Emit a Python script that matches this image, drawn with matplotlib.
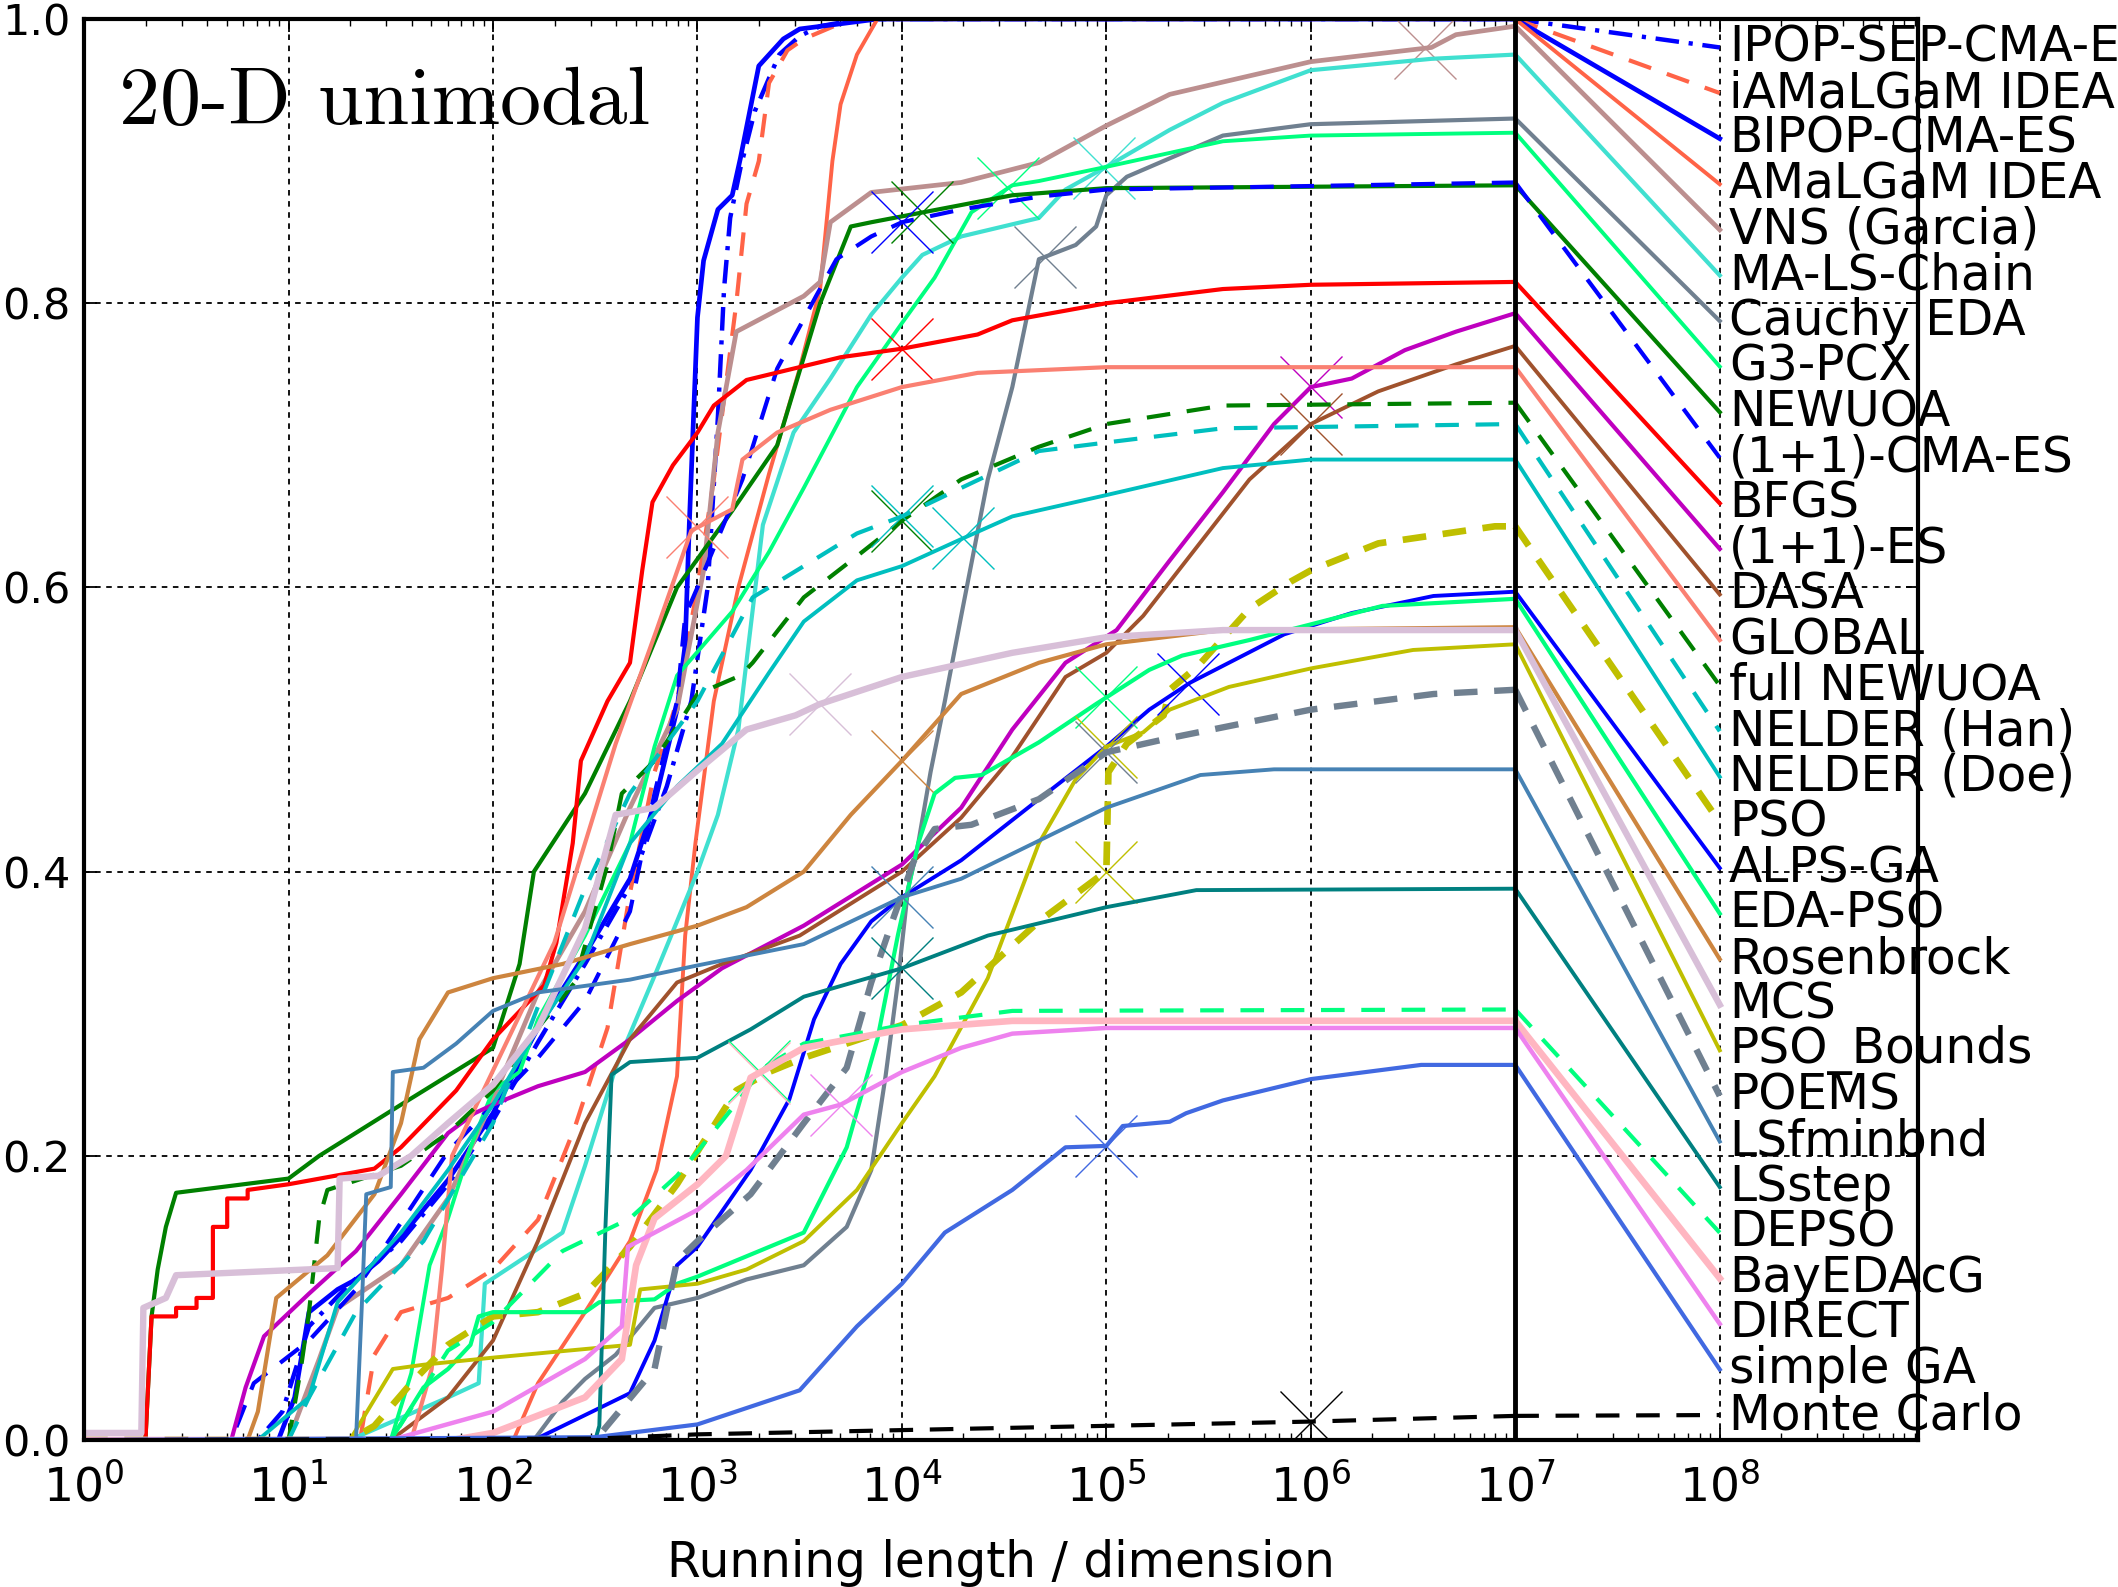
import numpy as np
import matplotlib
matplotlib.use("Agg")
import matplotlib.pyplot as plt

# ECDF points per algorithm: (log10 of running length / dimension, proportion of trials)
ipop_sep = [(0, 0), (0.85, 0), (0.97, 0.02), (1.1, 0.08), (1.3, 0.11), (1.55, 0.14), (1.78, 0.18),
            (2.0, 0.225), (2.22, 0.28), (2.45, 0.335), (2.67, 0.39), (2.85, 0.46), (2.97, 0.52),
            (3.05, 0.60), (3.1, 0.72), (3.13, 0.81), (3.16, 0.86), (3.21, 0.895), (3.28, 0.935),
            (3.4, 0.975), (3.5, 0.988), (3.6, 0.995), (3.8, 1.0), (7.0, 1.0)]
iamalgam = [(0, 0), (1.35, 0), (1.42, 0.06), (1.55, 0.09), (1.78, 0.10), (2.0, 0.12), (2.22, 0.155),
            (2.4, 0.22), (2.56, 0.29), (2.67, 0.385), (2.79, 0.47), (2.9, 0.52), (3.0, 0.6),
            (3.08, 0.676), (3.19, 0.8), (3.24, 0.87), (3.3, 0.90), (3.35, 0.955), (3.44, 0.978),
            (3.52, 0.986), (3.75, 1.0), (7.0, 1.0)]
bipop = [(0, 0), (0.95, 0), (1.03, 0.03), (1.1, 0.09), (1.24, 0.106), (1.33, 0.113), (1.44, 0.126),
         (1.55, 0.143), (1.78, 0.183), (2.0, 0.23), (2.22, 0.29), (2.45, 0.342), (2.67, 0.395),
         (2.79, 0.448), (2.9, 0.514), (2.94, 0.56), (2.96, 0.644), (3.0, 0.79), (3.03, 0.83),
         (3.1, 0.866), (3.17, 0.876), (3.21, 0.902), (3.3, 0.967), (3.42, 0.986), (3.5, 0.993),
         (3.88, 1.0), (7.0, 1.0)]
amalgam = [(0, 0), (2.1, 0), (2.22, 0.04), (2.45, 0.09), (2.67, 0.14), (2.8, 0.19), (2.9, 0.256),
           (2.94, 0.355), (2.99, 0.42), (3.08, 0.52), (3.2, 0.6), (3.35, 0.68), (3.5, 0.754),
           (3.6, 0.81), (3.66, 0.9), (3.7, 0.94), (3.78, 0.975), (3.88, 1.0), (7.0, 1.0)]
vns = [(0, 0), (1.0, 0), (1.15, 0.057), (1.24, 0.093), (1.55, 0.123), (1.78, 0.17), (2.0, 0.24),
       (2.22, 0.315), (2.45, 0.372), (2.67, 0.445), (2.9, 0.514), (3.03, 0.612), (3.1, 0.709),
       (3.19, 0.78), (3.52, 0.805), (3.6, 0.815), (3.65, 0.857), (3.85, 0.878), (4.29, 0.885),
       (4.67, 0.899), (5.0, 0.925), (5.31, 0.947), (6.0, 0.97), (6.59, 0.98), (6.71, 0.989),
       (7.0, 0.995)]
ma_ls_chain = [(0, 0), (1.3, 0), (1.78, 0.03), (1.93, 0.04), (1.96, 0.11), (2.34, 0.146),
               (2.45, 0.193), (2.6, 0.262), (2.8, 0.33), (3.0, 0.40), (3.1, 0.44), (3.2, 0.50),
               (3.32, 0.644), (3.47, 0.709), (3.65, 0.747), (3.85, 0.792), (4.0, 0.818),
               (4.1, 0.834), (4.29, 0.847), (4.67, 0.86), (4.8, 0.88), (5.0, 0.896),
               (5.31, 0.922), (5.57, 0.941), (6.0, 0.964), (6.59, 0.972), (7.0, 0.975)]
cauchy_eda = [(0, 0), (2.2, 0), (2.34, 0.027), (2.45, 0.043), (2.6, 0.06), (2.79, 0.093), (3.0, 0.1),
              (3.24, 0.113), (3.52, 0.123), (3.73, 0.15), (3.85, 0.19), (3.92, 0.256), (3.98, 0.322),
              (4.03, 0.388), (4.08, 0.42), (4.14, 0.47), (4.21, 0.52), (4.29, 0.58), (4.42, 0.676),
              (4.54, 0.741), (4.67, 0.831), (4.85, 0.841), (4.95, 0.854), (5.0, 0.876),
              (5.1, 0.889), (5.31, 0.902), (5.57, 0.918), (6.0, 0.926), (7.0, 0.93)]
g3pcx = [(0, 0), (1.5, 0), (1.6, 0.047), (1.69, 0.123), (1.78, 0.156), (1.89, 0.206), (2.0, 0.246),
         (2.13, 0.259), (2.22, 0.296), (2.45, 0.355), (2.67, 0.42), (2.79, 0.488), (2.9, 0.538),
         (3.17, 0.583), (3.35, 0.625), (3.52, 0.67), (3.78, 0.741), (4.0, 0.786), (4.16, 0.818),
         (4.34, 0.864), (4.54, 0.883), (4.67, 0.886), (5.0, 0.896), (5.57, 0.914), (6.0, 0.918),
         (7.0, 0.92)]
newuoa = [(0, 0), (0.3, 0), (0.33, 0.087), (0.36, 0.12), (0.4, 0.15), (0.45, 0.174), (1.0, 0.184),
          (1.15, 0.2), (1.55, 0.236), (2.0, 0.276), (2.13, 0.335), (2.2, 0.4), (2.45, 0.455),
          (2.67, 0.52), (2.9, 0.6), (3.17, 0.654), (3.39, 0.70), (3.6, 0.8), (3.75, 0.854),
          (3.85, 0.857), (4.54, 0.876), (5.0, 0.881), (7.0, 0.883)]
cma_11 = [(0, 0), (0.72, 0), (0.83, 0.04), (1.1, 0.07), (1.33, 0.106), (1.55, 0.153), (1.78, 0.203),
          (2.0, 0.236), (2.22, 0.269), (2.45, 0.309), (2.67, 0.372), (2.79, 0.455), (2.9, 0.52),
          (2.94, 0.58), (3.0, 0.60), (3.22, 0.676), (3.39, 0.754), (3.58, 0.805), (3.68, 0.831),
          (3.85, 0.847), (4.0, 0.857), (4.29, 0.866), (4.67, 0.875), (5.0, 0.88), (7.0, 0.885)]
bfgs = [(0, 0), (0.3, 0), (0.33, 0.087), (0.45, 0.087), (0.45, 0.093), (0.55, 0.093), (0.55, 0.1),
        (0.63, 0.1), (0.63, 0.15), (0.7, 0.15), (0.7, 0.17), (0.8, 0.17), (0.8, 0.176),
        (1.0, 0.18), (1.42, 0.191), (1.55, 0.206), (1.82, 0.246), (2.0, 0.282), (2.25, 0.32),
        (2.31, 0.35), (2.39, 0.42), (2.43, 0.478), (2.56, 0.52), (2.67, 0.547), (2.73, 0.612),
        (2.78, 0.66), (2.88, 0.686), (3.0, 0.709), (3.08, 0.728), (3.24, 0.746), (3.7, 0.762),
        (4.0, 0.768), (4.37, 0.778), (4.54, 0.788), (5.0, 0.80), (5.57, 0.81), (6.0, 0.813),
        (7.0, 0.815)]
es_11 = [(0, 0), (0.72, 0), (0.79, 0.037), (0.88, 0.073), (1.1, 0.103), (1.33, 0.133), (1.55, 0.173),
         (1.78, 0.216), (1.91, 0.23), (2.0, 0.236), (2.22, 0.249), (2.45, 0.259), (2.67, 0.282),
         (2.9, 0.309), (3.12, 0.332), (3.52, 0.362), (4.0, 0.405), (4.29, 0.445), (4.54, 0.50),
         (4.8, 0.547), (5.05, 0.57), (5.31, 0.619), (5.57, 0.667), (5.82, 0.715), (6.0, 0.741),
         (6.2, 0.747), (6.46, 0.767), (6.71, 0.78), (7.0, 0.793)]
dasa = [(0, 0), (1.5, 0), (1.78, 0.03), (2.0, 0.07), (2.22, 0.14), (2.45, 0.223), (2.67, 0.282),
        (2.9, 0.322), (3.12, 0.335), (3.5, 0.355), (4.0, 0.40), (4.29, 0.438), (4.54, 0.481),
        (4.8, 0.537), (5.0, 0.554), (5.18, 0.58), (5.44, 0.628), (5.7, 0.676), (6.0, 0.715),
        (6.33, 0.738), (6.71, 0.757), (7.0, 0.77)]
global_ = [(0, 0), (1.6, 0), (1.7, 0.05), (1.75, 0.12), (1.8, 0.2), (2.0, 0.26), (2.3, 0.35),
           (2.6, 0.49), (2.8, 0.57), (2.97, 0.64), (3.17, 0.655), (3.22, 0.69), (3.39, 0.709),
           (3.65, 0.725), (4.0, 0.741), (4.37, 0.751), (5.0, 0.755), (7.0, 0.755)]
full_newuoa = [(0, 0), (1.0, 0), (1.06, 0.05), (1.1, 0.09), (1.15, 0.156), (1.19, 0.176),
               (1.55, 0.193), (1.78, 0.216), (2.0, 0.246), (2.22, 0.29), (2.4, 0.322),
               (2.56, 0.405), (2.63, 0.455), (2.79, 0.478), (3.0, 0.525), (3.21, 0.538),
               (3.27, 0.547), (3.52, 0.593), (3.78, 0.622), (4.0, 0.647), (4.29, 0.676),
               (4.67, 0.699), (5.0, 0.715), (5.57, 0.728), (7.0, 0.73)]
nelder_han = [(0, 0), (1.0, 0), (1.1, 0.03), (1.33, 0.09), (1.66, 0.14), (2.0, 0.223), (2.22, 0.305),
              (2.45, 0.388), (2.67, 0.455), (3.0, 0.52), (3.27, 0.593), (3.52, 0.615),
              (3.78, 0.638), (4.0, 0.65), (4.29, 0.67), (4.67, 0.696), (5.0, 0.702),
              (5.57, 0.712), (7.0, 0.715)]
nelder_doe = [(0, 0), (0.85, 0), (1.1, 0.03), (1.24, 0.097), (1.55, 0.146), (1.78, 0.19), (2.0, 0.236),
              (2.22, 0.29), (2.45, 0.339), (2.67, 0.42), (2.9, 0.46), (3.12, 0.49), (3.35, 0.54),
              (3.52, 0.576), (3.78, 0.605), (4.0, 0.615), (4.29, 0.634), (4.54, 0.65),
              (5.0, 0.665), (5.57, 0.684), (6.0, 0.69), (7.0, 0.69)]
pso = [(0, 0), (1.3, 0), (1.42, 0.01), (1.6, 0.04), (1.78, 0.067), (2.0, 0.087), (2.22, 0.09),
       (2.45, 0.103), (2.67, 0.136), (2.9, 0.18), (3.0, 0.203), (3.19, 0.246), (3.35, 0.259),
       (3.52, 0.269), (4.0, 0.292), (4.29, 0.315), (4.67, 0.365), (4.95, 0.395), (5.0, 0.40),
       (5.01, 0.47), (5.1, 0.49), (5.28, 0.51), (5.31, 0.528), (5.45, 0.545), (5.7, 0.585),
       (5.9, 0.604), (6.0, 0.612), (6.33, 0.631), (6.9, 0.643), (7.0, 0.643)]
alps_ga = [(0, 0), (2.2, 0), (2.67, 0.033), (2.79, 0.07), (2.9, 0.123), (3.0, 0.136), (3.26, 0.19),
           (3.45, 0.24), (3.57, 0.296), (3.7, 0.335), (3.85, 0.365), (4.0, 0.382), (4.29, 0.408),
           (4.67, 0.451), (5.0, 0.488), (5.21, 0.514), (5.41, 0.533), (5.87, 0.567), (6.2, 0.582),
           (6.6, 0.594), (7.0, 0.597)]
eda_pso = [(0, 0), (1.5, 0), (1.66, 0.037), (1.78, 0.05), (1.89, 0.067), (1.93, 0.087), (2.0, 0.09),
           (2.45, 0.09), (2.52, 0.097), (2.79, 0.099), (2.9, 0.11), (3.0, 0.115), (3.52, 0.146),
           (3.73, 0.206), (3.88, 0.282), (3.98, 0.355), (4.08, 0.42), (4.16, 0.455), (4.26, 0.466),
           (4.39, 0.468), (4.67, 0.491), (4.95, 0.518), (5.21, 0.542), (5.37, 0.552), (5.7, 0.563),
           (6.0, 0.574), (6.35, 0.587), (7.0, 0.592)]
rosenbrock = [(0, 0), (0.8, 0), (0.85, 0.02), (0.94, 0.1), (1.19, 0.13), (1.42, 0.173), (1.55, 0.223),
              (1.64, 0.282), (1.78, 0.315), (2.0, 0.325), (2.34, 0.335), (2.67, 0.349), (3.0, 0.362),
              (3.24, 0.375), (3.52, 0.40), (3.75, 0.44), (4.0, 0.478), (4.29, 0.525), (4.67, 0.547),
              (5.0, 0.56), (5.57, 0.57), (7.0, 0.572)]
mcs = [(0, 0.005), (0.28, 0.005), (0.29, 0.093), (0.4, 0.1), (0.45, 0.116), (1.24, 0.121),
       (1.25, 0.184), (1.44, 0.186), (1.6, 0.2), (1.78, 0.223), (2.0, 0.25), (2.22, 0.29),
       (2.45, 0.36), (2.6, 0.44), (2.79, 0.445), (2.99, 0.47), (3.24, 0.50), (3.48, 0.51),
       (3.6, 0.518), (4.0, 0.537), (4.54, 0.554), (5.0, 0.565), (5.57, 0.57), (7.0, 0.57)]
pso_bounds = [(0, 0), (1.3, 0), (1.51, 0.05), (1.66, 0.053), (2.0, 0.058), (2.67, 0.067),
              (2.72, 0.106), (3.0, 0.11), (3.24, 0.12), (3.52, 0.14), (3.78, 0.176), (4.0, 0.223),
              (4.16, 0.256), (4.42, 0.325), (4.67, 0.42), (4.85, 0.465), (5.0, 0.488), (5.18, 0.498),
              (5.31, 0.514), (5.6, 0.53), (6.0, 0.543), (6.5, 0.556), (7.0, 0.56)]
poems = [(0, 0), (2.5, 0), (2.79, 0.05), (2.9, 0.126), (3.0, 0.14), (3.26, 0.173), (3.52, 0.223),
         (3.73, 0.262), (3.85, 0.322), (3.96, 0.368), (4.06, 0.408), (4.16, 0.43), (4.34, 0.433),
         (4.67, 0.451), (5.0, 0.484), (5.31, 0.494), (6.0, 0.514), (6.6, 0.525), (7.0, 0.528)]
lsfminbnd = [(0, 0), (1.33, 0), (1.36, 0.1), (1.38, 0.173), (1.5, 0.178), (1.51, 0.259),
             (1.66, 0.262), (1.82, 0.279), (2.0, 0.302), (2.22, 0.315), (2.67, 0.324), (3.0, 0.334),
             (3.52, 0.349), (4.0, 0.382), (4.29, 0.395), (5.0, 0.445), (5.46, 0.468), (5.82, 0.472),
             (7.0, 0.472)]
lsstep = [(0, 0), (2.5, 0), (2.52, 0.01), (2.55, 0.15), (2.58, 0.257), (2.67, 0.266), (3.0, 0.269),
          (3.26, 0.289), (3.52, 0.312), (4.0, 0.332), (4.42, 0.355), (5.0, 0.375), (5.44, 0.387),
          (7.0, 0.388)]
depso = [(0, 0), (1.5, 0), (1.78, 0.063), (2.0, 0.083), (2.34, 0.133), (2.67, 0.156), (2.9, 0.186),
         (3.0, 0.203), (3.24, 0.246), (3.3, 0.26), (3.52, 0.279), (4.0, 0.292), (4.54, 0.302),
         (7.0, 0.303)]
bayedacg = [(0, 0), (1.8, 0), (2.0, 0.005), (2.45, 0.03), (2.63, 0.057), (2.7, 0.123), (2.79, 0.156),
            (3.0, 0.18), (3.14, 0.2), (3.26, 0.255), (3.52, 0.276), (4.0, 0.289), (4.54, 0.295),
            (7.0, 0.295)]
direct = [(0, 0), (1.5, 0), (2.0, 0.02), (2.45, 0.057), (2.63, 0.08), (2.66, 0.136), (3.0, 0.162),
          (3.24, 0.19), (3.52, 0.229), (3.7, 0.236), (4.0, 0.259), (4.29, 0.276), (4.54, 0.286),
          (5.0, 0.29), (7.0, 0.29)]
simple_ga = [(0, 0), (2.5, 0.002), (3.0, 0.011), (3.5, 0.035), (3.78, 0.08), (4.0, 0.11),
             (4.21, 0.146), (4.54, 0.176), (4.8, 0.206), (5.0, 0.207), (5.08, 0.221), (5.31, 0.224),
             (5.39, 0.23), (5.57, 0.239), (6.0, 0.254), (6.54, 0.264), (7.0, 0.264)]
monte_carlo = [(0, 0), (2.5, 0.001), (3.0, 0.004), (4.0, 0.007), (5.0, 0.01), (6.0, 0.013),
               (7.0, 0.017)]

labels = ['IPOP-SEP-CMA-ES', 'iAMaLGaM IDEA', 'BIPOP-CMA-ES', 'AMaLGaM IDEA', 'VNS (Garcia)',
          'MA-LS-Chain', 'Cauchy EDA', 'G3-PCX', 'NEWUOA', '(1+1)-CMA-ES', 'BFGS', '(1+1)-ES',
          'DASA', 'GLOBAL', 'full NEWUOA', 'NELDER (Han)', 'NELDER (Doe)', 'PSO', 'ALPS-GA',
          'EDA-PSO', 'Rosenbrock', 'MCS', 'PSO_Bounds', 'POEMS', 'LSfminbnd', 'LSstep', 'DEPSO',
          'BayEDAcG', 'DIRECT', 'simple GA', 'Monte Carlo']
curves = [ipop_sep, iamalgam, bipop, amalgam, vns, ma_ls_chain, cauchy_eda, g3pcx, newuoa, cma_11,
          bfgs, es_11, dasa, global_, full_newuoa, nelder_han, nelder_doe, pso, alps_ga, eda_pso,
          rosenbrock, mcs, pso_bounds, poems, lsfminbnd, lsstep, depso, bayedacg, direct,
          simple_ga, monte_carlo]
# log10 of median maximum number of evaluations / dimension (cross markers)
max_evals = [None, None, None, None, 6.56, 4.99, 4.7, 4.52, 4.1, 4.0, 4.0, 6.0, 6.0, 3.0, 4.0,
             4.0, 4.3, 5.0, 5.4, 5.0, 4.0, 3.6, 5.0, 5.0, 4.0, 4.0, 3.3, 3.3, 3.7, 5.0, 6.0]

# line styles (colour, dash, width)
DASH = (0, (17, 12))
DASHDOT = (0, (17, 7, 3, 7))
styles = [('#0000ff', DASHDOT, 3.2), ('#ff6347', DASH, 3.0), ('#0000ff', '-', 3.4),
          ('#ff6347', '-', 2.8), ('#bc8f8f', '-', 3.4), ('#40e0d0', '-', 3.0),
          ('#708090', '-', 3.0), ('#00ff7f', '-', 2.8), ('#008000', '-', 3.0),
          ('#0000ff', DASH, 3.0), ('#ff0000', '-', 3.0), ('#bf00bf', '-', 3.0),
          ('#a0522d', '-', 2.8), ('#fa8072', '-', 3.0), ('#008000', DASH, 3.0),
          ('#00bfbf', DASH, 3.0), ('#00bfbf', '-', 2.8), ('#bfbf00', DASH, 4.8),
          ('#0000ff', '-', 2.8), ('#00ff7f', '-', 3.0), ('#cd853f', '-', 3.0),
          ('#d8bfd8', '-', 4.6), ('#bfbf00', '-', 2.8), ('#708090', DASH, 4.6),
          ('#4682b4', '-', 2.8), ('#008080', '-', 2.8), ('#00ff7f', DASH, 3.0),
          ('#ffb6c1', '-', 4.8), ('#ee82ee', '-', 3.2), ('#4169e1', '-', 3.0),
          ('#000000', DASH, 3.0)]

plt.rcParams['lines.scale_dashes'] = False
plt.rcParams['font.family'] = 'DejaVu Sans'

fig = plt.figure(figsize=(21.18, 15.87), dpi=100)
ax = fig.add_axes([0.0397, 0.0926, 0.8659, 0.8954])

label_y = np.linspace(0.980, 0.0176, len(labels))

for name, pts, (color, ls, lw), mx, ly in zip(labels, curves, styles, max_evals, label_y):
    lx, y = np.array(pts).T
    ax.plot(10 ** lx, y, color=color, linestyle=ls, linewidth=lw)
    if mx is not None:
        ax.plot(10 ** mx, np.interp(mx, lx, y), marker='x', markersize=44,
                markeredgewidth=1.0, color=color, linestyle='none')
    # connector from the final value to the label slot
    ax.plot([1e7, 1e8], [y[-1], ly], color=color, linestyle=ls, linewidth=lw)
    ax.text(10 ** 8.045, ly, name, fontsize=35, va='center', ha='left')

ax.axvline(1e7, color='k', linewidth=3.5)

ax.set_xscale('log')
ax.set_xlim(1, 10 ** 8.97)
ax.set_ylim(0, 1)
ax.set_xticks([10 ** k for k in range(9)])
ax.set_xticklabels([r'$10^{%d}$' % k for k in range(9)])
ax.set_yticks([0.0, 0.2, 0.4, 0.6, 0.8, 1.0])
ax.set_yticklabels(['0.0', '0.2', '0.4', '0.6', '0.8', '1.0'])
ax.tick_params(which='both', direction='in', top=True, right=True)
ax.tick_params(which='major', length=9, width=1.3)
ax.tick_params(which='minor', length=5, width=1.0)
ax.tick_params(axis='x', labelsize=34, pad=17)
ax.tick_params(axis='y', labelsize=31, pad=10)
ax.grid(True, which='major', color='k', linestyle=(0, (4, 4)), linewidth=1.3)
for sp in ax.spines.values():
    sp.set_linewidth(3)

ax.set_xlabel('Running length / dimension', fontsize=35, labelpad=20)
ax.text(10 ** 0.17, 0.926, '20-D unimodal', family='cmr10', fontsize=59, va='baseline')

fig.savefig('out.png', dpi=100)
